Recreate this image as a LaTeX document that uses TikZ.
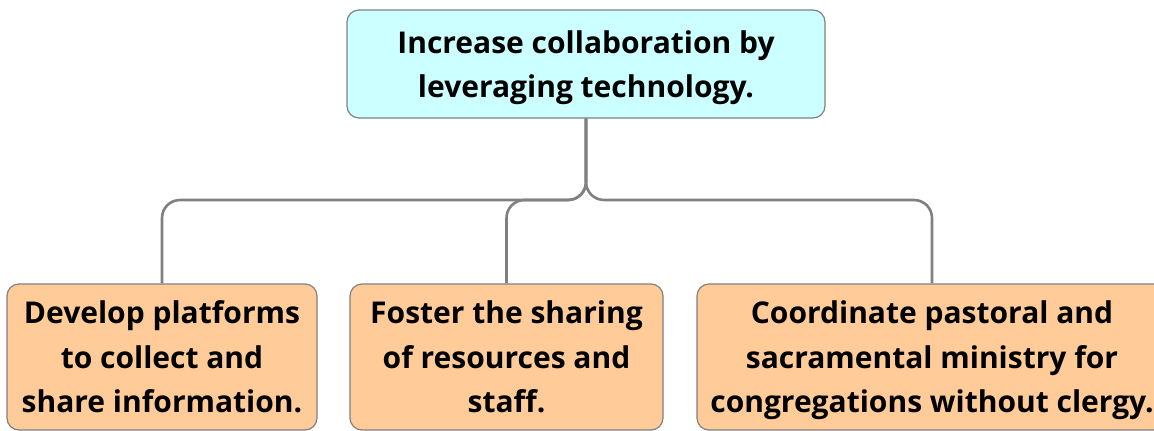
\documentclass[tikz,border=0pt]{standalone}
\usepackage{fontspec}
\setmainfont{Open Sans}
\definecolor{goalfill}{HTML}{CCFFFF}
\definecolor{taskfill}{HTML}{FFCC99}
\definecolor{edgegray}{HTML}{808080}
\begin{document}
\begin{tikzpicture}[x=1pt,y=-1pt,
    box/.style={draw=edgegray,line width=1.2pt,rounded corners=12pt,align=center,
      font=\fontsize{30}{44.5}\selectfont\bfseries,inner sep=0pt,text depth=0pt},
    goal/.style={box,fill=goalfill},
    task/.style={box,fill=taskfill},
    link/.style={draw=edgegray,line width=2.6pt,rounded corners=18pt}]
  \useasboundingbox (0,0) rectangle (1154,431);
  \node[goal,minimum width=478pt,minimum height=108pt] (goal) at (586,64)
    {Increase collaboration by\\leveraging technology.};
  \node[task,minimum width=310pt,minimum height=146pt] (dev) at (162,357)
    {Develop platforms\\to collect and\\share information.};
  \node[task,minimum width=313pt,minimum height=146pt] (fos) at (506.5,357)
    {Foster the sharing\\of resources and\\staff.};
  \node[task,minimum width=470pt,minimum height=146pt] (coo) at (932,357)
    {Coordinate pastoral and\\sacramental ministry for\\congregations without clergy.};
  \coordinate (hub) at (586,200);
  \begin{scope}
    \draw[link] (goal.south) |- (dev.north |- hub) -- (dev.north);
    \draw[link] (goal.south) |- (fos.north |- hub) -- (fos.north);
    \draw[link] (goal.south) |- (coo.north |- hub) -- (coo.north);
  \end{scope}
\end{tikzpicture}
\end{document}
